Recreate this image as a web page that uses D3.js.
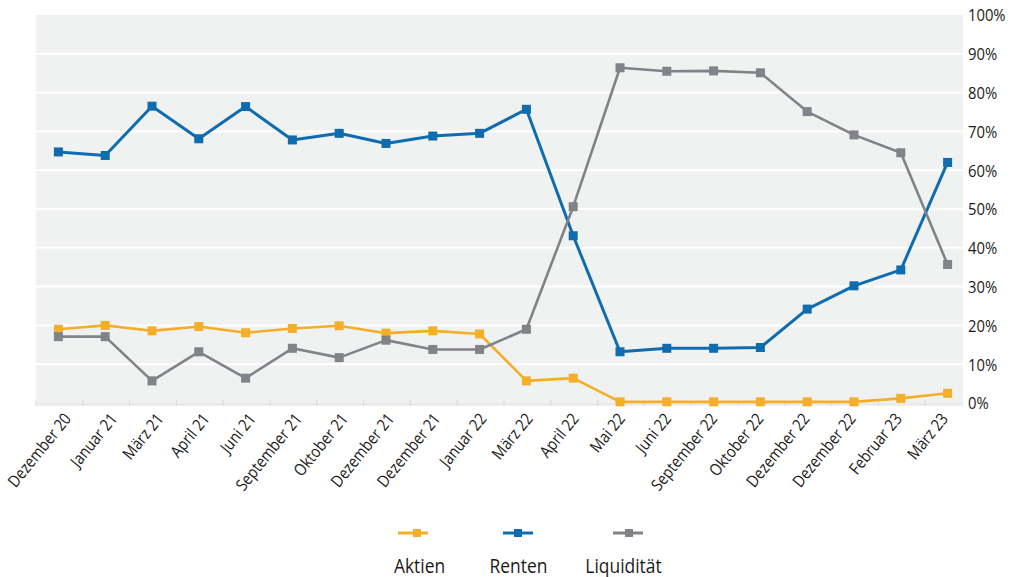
<!DOCTYPE html>
<html>
<head>
<meta charset="utf-8">
<script src="https://cdn.jsdelivr.net/npm/d3@7"></script>
<style>
body { margin: 0; background: #fff; }
text { font-family: "Open Sans", "Noto Sans", sans-serif; fill: #1a1a1a; }
</style>
</head>
<body>
<script>
var categories = ["Dezember 20", "Januar 21", "März 21", "April 21", "Juni 21", "September 21",
    "Oktober 21", "Dezember 21", "Dezember 21", "Januar 22", "März 22", "April 22", "Mai 22",
    "Juni 22", "September 22", "Oktober 22", "Dezember 22", "Dezember 22", "Februar 23", "März 23"];
var aktien = [19, 20, 18.6, 19.7, 18.1, 19.2, 19.9, 18, 18.6, 17.8, 5.7, 6.4, 0.3, 0.3, 0.3, 0.3, 0.3, 0.3, 1.2, 2.5];
var renten = [64.7, 63.8, 76.5, 68.1, 76.4, 67.8, 69.5, 66.9, 68.8, 69.5, 75.7, 43.1, 13.2, 14.1, 14.1, 14.3, 24.2, 30.2, 34.3, 62];
var liquiditaet = [17.1, 17.1, 5.7, 13.2, 6.4, 14.1, 11.7, 16.2, 13.8, 13.8, 19, 50.6, 86.4, 85.5, 85.6, 85.1, 75.1, 69.1, 64.5, 35.7];
var yTicks = [0, 10, 20, 30, 40, 50, 60, 70, 80, 90, 100];

var series = [
    {name: "Aktien", values: aktien, color: "#f4ae2a"},
    {name: "Renten", values: renten, color: "#0f6daf"},
    {name: "Liquidität", values: liquiditaet, color: "#828289"}
];

var svg = d3.select("body")
    .append("svg")
    .attr("width", "1010")
    .attr("height", "577")
    .style('display', 'block');

var plotLeft = 36, plotRight = 963, plotTop = 15, plotBottom = 403;
var narrow = "scale(0.87,1)";

var x = d3.scaleBand()
    .domain(d3.range(categories.length))
    .range([35, 971])
    .paddingInner(0);

// labels sit on a slightly tighter spacing than the points
var xLabel = d3.scalePoint()
    .domain(d3.range(categories.length))
    .range([72, 949]);

var y = d3.scaleLinear()
    .domain([0, 100])
    .range([plotBottom, plotTop]);

// background
svg.append("rect")
    .attr("x", plotLeft)
    .attr("y", plotTop)
    .attr("width", plotRight - plotLeft)
    .attr("height", plotBottom - plotTop + 3)
    .attr("fill", "#f0f1f1");

// gridlines
svg.append("g")
    .selectAll("line")
    .data(yTicks.filter(function(d){ return d > 0 && d < 100; }))
    .enter()
    .append("line")
    .attr("x1", plotLeft)
    .attr("x2", plotRight)
    .attr("y1", function(d){ return y(d); })
    .attr("y2", function(d){ return y(d); })
    .attr("stroke", "#ffffff")
    .attr("stroke-width", 2);

// bottom axis line + ticks
svg.append("line")
    .attr("x1", plotLeft).attr("x2", plotRight)
    .attr("y1", plotBottom + 1).attr("y2", plotBottom + 1)
    .attr("stroke", "#e2e3e3").attr("stroke-width", 1);

svg.append("g")
    .selectAll("line")
    .data(d3.range(categories.length))
    .enter()
    .append("line")
    .attr("x1", function(d){ return x(d) + 1; })
    .attr("x2", function(d){ return x(d) + 1; })
    .attr("y1", plotBottom - 3)
    .attr("y2", plotBottom + 3)
    .attr("stroke", "#d8d9d9");

// right axis labels
var yAxis = d3.axisRight(y)
    .tickValues(yTicks)
    .tickSize(0)
    .tickPadding(0)
    .tickFormat(function(d){ return d + "%"; });

var ya = svg.append("g")
    .attr("transform", "translate(968,0)")
    .call(yAxis);
ya.select(".domain").remove();
ya.selectAll("text")
    .style("font-size", "17px")
    .style("font-family", "'Open Sans', sans-serif")
    .attr("fill", "#1a1a1a")
    .attr("transform", narrow)
    .attr("dy", "0.35em");

// x labels
svg.append("g")
    .selectAll("text")
    .data(categories)
    .enter()
    .append("text")
    .attr("transform", function(d, i){
        return "translate(" + xLabel(i) + "," + (plotBottom + 16) + ") rotate(-51) " + narrow;
    })
    .attr("text-anchor", "end")
    .style("font-size", "16.5px")
    .text(function(d){ return d; });

// lines
var line = d3.line()
    .x(function(d, i){ return x(i) + x.bandwidth() / 2; })
    .y(function(d){ return y(d); });

var sg = svg.append("g")
    .selectAll("g")
    .data(series)
    .enter()
    .append("g");

sg.append("path")
    .attr("d", function(d){ return line(d.values); })
    .attr("fill", "none")
    .attr("stroke", function(d){ return d.color; })
    .attr("stroke-width", function(d){ return d.name == "Renten" ? 3 : 2.6; })
    .attr("stroke-linejoin", "round");

sg.selectAll("rect")
    .data(function(d){ return d.values.map(function(v){ return {v: v, c: d.color}; }); })
    .enter()
    .append("rect")
    .attr("x", function(d, i){ return x(i) + x.bandwidth() / 2 - 4.5; })
    .attr("y", function(d){ return y(d.v) - 4.5; })
    .attr("width", 9)
    .attr("height", 9)
    .attr("fill", function(d){ return d.c; });

// legend
var legendLine = [413, 518, 628];
var legendMark = [417, 518, 629];
var legendText = [419.5, 518.5, 623.5];

var lg = svg.append("g")
    .selectAll("g")
    .data(series)
    .enter()
    .append("g");

lg.append("line")
    .attr("x1", function(d, i){ return legendLine[i] - 15; })
    .attr("x2", function(d, i){ return legendLine[i] + 15; })
    .attr("y1", 533).attr("y2", 533)
    .attr("stroke", function(d){ return d.color; })
    .attr("stroke-width", 3);

lg.append("rect")
    .attr("x", function(d, i){ return legendMark[i] - 4; })
    .attr("y", 529)
    .attr("width", 8).attr("height", 8)
    .attr("fill", function(d){ return d.color; });

lg.append("text")
    .attr("transform", function(d, i){ return "translate(" + legendText[i] + ",573) " + narrow; })
    .attr("text-anchor", "middle")
    .style("font-size", "20px")
    .text(function(d){ return d.name; });
</script>
</body>
</html>
